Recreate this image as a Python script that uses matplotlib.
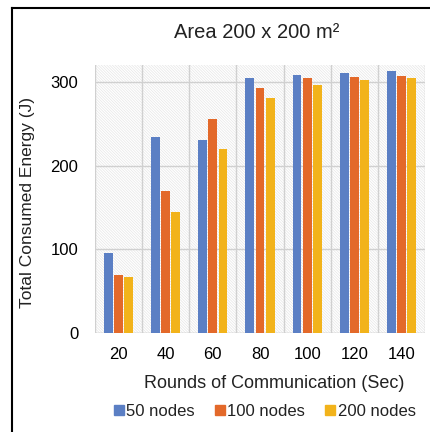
import matplotlib.pyplot as plt
import numpy as np
from matplotlib.patches import Rectangle
from matplotlib.lines import Line2D

rounds = ["20", "40", "60", "80", "100", "120", "140"]
nodes_50 = [95, 234, 231, 305, 308, 311, 313]
nodes_100 = [69, 170, 255, 293, 305, 306, 307]
nodes_200 = [67, 144, 220, 281, 296, 302, 305]
series_names = ["50 nodes", "100 nodes", "200 nodes"]
colors = ["#5b7fc4", "#e3692a", "#f2b31b"]

plt.rcParams["font.family"] = ["Liberation Sans", "DejaVu Sans"]
plt.rcParams["hatch.linewidth"] = 0.5

W, H = 430, 432
fig = plt.figure(figsize=(W / 100, H / 100), dpi=100)
ax = fig.add_axes([95 / W, 1 - 333 / H, 330 / W, 268 / H])

x = np.arange(len(rounds))
width = 0.19
step = 0.215
for i, vals in enumerate([nodes_50, nodes_100, nodes_200]):
    ax.bar(x + (i - 1) * step, vals, width, color=colors[i], zorder=3,
           label=series_names[i])

# fine hatched background
ax.add_patch(Rectangle((0, 0), 1, 1, transform=ax.transAxes, facecolor="white",
                       edgecolor="#e6e6e6", hatch="\\" * 12, lw=0, zorder=0))
ax.patch.set_visible(False)

ax.set_xlim(-0.5, len(rounds) - 0.5)
ax.set_ylim(0, 320)
ax.set_yticks([0, 100, 200, 300])
ax.set_xticks(x)
ax.set_xticklabels(rounds)
ax.set_xticks(np.arange(-0.5, len(rounds)), minor=True)
ax.grid(True, axis="y", color="#d0d0d0", lw=1, zorder=1)
ax.grid(True, axis="x", which="minor", color="#d0d0d0", lw=1, zorder=1)
ax.tick_params(axis="both", length=0, labelsize=12, which="both")
ax.tick_params(axis="y", pad=12)
ax.tick_params(axis="x", pad=10)
for s in ax.spines.values():
    s.set_visible(False)
ax.axhline(0, color="#d0d0d0", lw=1, zorder=2)

fig.text(28 / W, 1 - 203 / H, "Total Consumed Energy (J)", rotation=90,
         ha="center", va="center", fontsize=12.5, color="#222222")
fig.text(274 / W, 1 - 384 / H, "Rounds of Communication (Sec)",
         ha="center", va="center", fontsize=13, color="#222222")
fig.text(257 / W, 1 - 33 / H, "Area 200 x 200 m²", ha="center",
         va="center", fontsize=14.5, color="#222222")

handles = [Line2D([], [], marker="s", ls="", color=c, markersize=7) for c in colors]
fig.legend(handles, series_names, loc="center", bbox_to_anchor=(264 / W, 1 - 411 / H),
           ncol=3, frameon=False, fontsize=12, handletextpad=0.05,
           columnspacing=1.1, handlelength=0.8, labelcolor="#222222")

# frame lines at left and top
fig.add_artist(Line2D([12 / W, 12 / W], [0, 1 - 8 / H], color="black", lw=1.5,
                      transform=fig.transFigure))
fig.add_artist(Line2D([12 / W, 1], [1 - 8 / H, 1 - 8 / H], color="black", lw=1.5,
                      transform=fig.transFigure))

fig.savefig("out.png", dpi=100)
